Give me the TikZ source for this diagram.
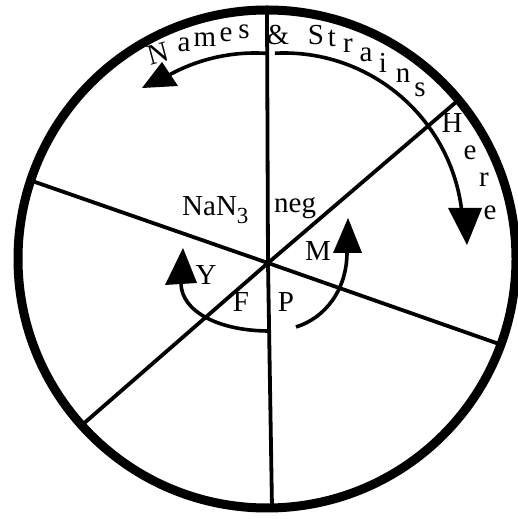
\documentclass[tikz,border=0pt]{standalone}
\usepackage{fontspec}
\setmainfont{Liberation Serif}
\begin{document}
\begin{tikzpicture}[x=1pt,y=1pt,
  rim/.style={line width=9pt},
  spoke/.style={line width=3.8pt},
  curve/.style={line width=3.6pt},
  head/.style={fill=black},
  lbl/.style={inner sep=0pt, font=\fontsize{29}{32}\selectfont},
  ]
\useasboundingbox (0,0) rectangle (517,519);
% spokes
\coordinate (hub) at (268,256);
\coordinate (T) at (267,509);
\coordinate (Bo) at (272,11);
\coordinate (AL) at (30.7,338.5);
\coordinate (AR) at (500.8,174.4);
\coordinate (BL) at (81.7,93.7);
\coordinate (BR) at (458.6,419.1);
\draw[spoke] (T) -- (hub) -- (Bo);
\draw[spoke] (AL) -- (hub) -- (AR);
\draw[spoke] (BL) -- (hub) -- (BR);
% rim
\draw[rim] (267,260) circle[radius=249pt];
% big arcs
\draw[curve] (255,287) ++(86:179pt) arc[start angle=86, end angle=118.3, radius=179pt];
\fill[head] (142,431) -- (178,433) -- (162,457) -- cycle;
\draw[curve] (284,287) ++(92.9:179pt) arc[start angle=92.9, end angle=7.7, radius=179pt];
\fill[head] (467,274) -- (448,311) -- (482,311) -- cycle;
% small arcs
\draw[curve] (269,188) .. controls (220,188) and (181,207) .. (181,236);
\fill[head] (183,271) -- (165,234) -- (197,236) -- cycle;
\draw[curve] (296,192) .. controls (325,201) and (347,229) .. (347,267);
\fill[head] (348,301) -- (333,266) -- (362,266) -- cycle;
% curved title letters
\node[lbl, rotate=15] (l1) at (158,465) {N};
\node[lbl, anchor=base] (l2) at (184,467) {a};
\node[lbl, anchor=base] (l3) at (205,472) {m};
\node[lbl, anchor=base] (l4) at (226,477) {e};
\node[lbl, anchor=base] (l5) at (244,480) {s};
\node[lbl, anchor=base] (l6) at (278,474) {\&};
\node[lbl, anchor=base] (l7) at (316,474) {S};
\node[lbl, anchor=base] (l8) at (332,472) {t};
\node[lbl, anchor=base] (l9) at (348,466) {r};
\node[lbl, anchor=base] (l10) at (366,457) {a};
\node[lbl, anchor=base] (l11) at (383,446) {i};
\node[lbl, anchor=base] (l12) at (403,436) {n};
\node[lbl, anchor=base] (l13) at (420,422) {s};
\node[lbl, anchor=base] (l14) at (452,386) {H};
\node[lbl, anchor=base] (l15) at (470,359) {e};
\node[lbl, anchor=base] (l16) at (484,332) {r};
\node[lbl, anchor=base] (l17) at (490,299) {e};
% sector labels
\node[lbl, anchor=base west] (nan) at (182,303) {NaN\raisebox{-8pt}{\fontsize{23}{23}\selectfont 3}};
\node[lbl, anchor=base west] (neg) at (274,306) {neg};
\node[lbl, anchor=base] (M) at (318,258) {M};
\node[lbl, anchor=base] (Y) at (206,234) {Y};
\node[lbl, anchor=base] (F) at (241,207) {F};
\node[lbl, anchor=base] (P) at (286,207) {P};
\end{tikzpicture}
\end{document}
